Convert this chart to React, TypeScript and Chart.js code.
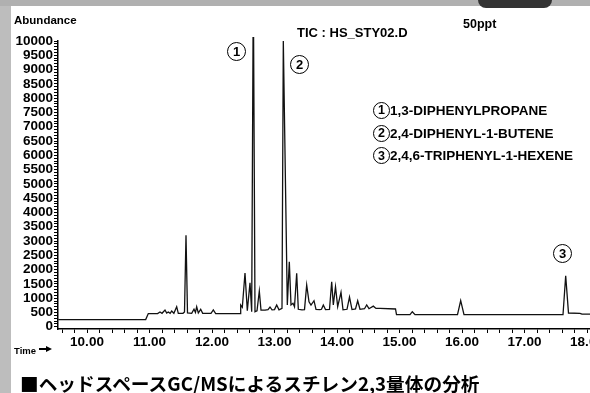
import React, { useEffect, useRef } from "react";
import { Chart, registerables } from "chart.js";

Chart.register(...registerables);

// Retention time (min) of each point of the total ion chromatogram
const retentionTimes = [
  9.54, 10.939, 10.981, 11.13, 11.168, 11.2, 11.248, 11.275, 11.301, 11.33, 11.355, 11.39, 11.435, 11.461,
  11.536, 11.56, 11.584, 11.608, 11.675, 11.712, 11.735, 11.755, 11.781, 11.819, 11.851, 11.984, 12.021,
  12.059, 12.448, 12.459, 12.485, 12.528, 12.565, 12.608, 12.635, 12.661, 12.688, 12.72, 12.757, 12.784,
  12.848, 12.896, 12.928, 12.96, 13.0, 13.035, 13.072, 13.12, 13.141, 13.205, 13.237, 13.264, 13.296,
  13.32, 13.355, 13.381, 13.44, 13.48, 13.515, 13.552, 13.584, 13.632, 13.664, 13.728, 13.752, 13.781,
  13.816, 13.88, 13.915, 13.941, 13.976, 14.011, 14.064, 14.096, 14.16, 14.2, 14.24, 14.296, 14.331,
  14.368, 14.44, 14.475, 14.512, 14.581, 14.624, 14.688, 14.936, 14.952, 15.168, 15.205, 15.248, 15.928,
  15.979, 16.032, 17.616, 17.659, 17.704, 17.888, 17.92, 18.6,
];

// Abundance at each retention time
const abundance = [
  250, 250, 460, 460, 515, 470, 585, 480, 515, 470, 550, 470, 700, 470,
  470, 520, 3200, 480, 470, 610, 500, 700, 480, 610, 470, 470, 585,
  460, 460, 760, 680, 1880, 560, 1540, 525, 12000, 525, 560, 1250, 585,
  580, 600, 690, 590, 600, 760, 590, 640, 10000, 760, 2275, 760, 820,
  700, 1870, 610, 590, 600, 1460, 875, 760, 910, 610, 600, 610, 760,
  600, 610, 1575, 760, 1400, 700, 1200, 590, 610, 1040, 600, 620, 910,
  610, 630, 760, 630, 720, 640, 640, 620, 420, 420, 525, 420, 420,
  910, 420, 420, 1785, 480, 470, 440, 440,
];

const xMin = 9.536;
const xMax = 18.048;
const xTickStep = 0.2;
const yMin = -80;
const yMax = 10000;
const yTickStep = 100;
const yLabelStep = 500;

const peakNumbers = ["1", "2", "3"];
const compounds = ["1,3-DIPHENYLPROPANE", "2,4-DIPHENYL-1-BUTENE", "2,4,6-TRIPHENYL-1-HEXENE"];
const yAxisTitle = "Abundance";
const fileTitle = "TIC : HS_STY02.D";
const concentration = "50ppt";
const xAxisTitle = "Time";
const caption = "\u25A0\u30D8\u30C3\u30C9\u30B9\u30DA\u30FC\u30B9GC/MS\u306B\u3088\u308B\u30B9\u30C1\u30EC\u30F32,3\u91CF\u4F53\u306E\u5206\u6790";

const SANS = "'Liberation Sans', Arial, Helvetica, sans-serif";
const CJK = "'Noto Sans CJK JP', 'Noto Sans CJK SC', sans-serif";

function Circled({ n, left, top, d, fs }: { n: string; left: number; top: number; d: number; fs: number }) {
  return (
    <div
      style={{
        position: "absolute",
        left,
        top,
        width: d,
        height: d,
        boxSizing: "border-box",
        border: "1.8px solid #000",
        borderRadius: "50%",
        display: "flex",
        alignItems: "center",
        justifyContent: "center",
        fontFamily: SANS,
        fontWeight: "bold",
        fontSize: fs,
        lineHeight: 1,
        color: "#000",
      }}
    >
      {n}
    </div>
  );
}

export default function App() {
  const canvasRef = useRef<HTMLCanvasElement | null>(null);

  useEffect(() => {
    const canvas = canvasRef.current;
    if (!canvas) return;
    const points = retentionTimes.map((t, i) => ({ x: t, y: abundance[i] }));
    const chart = new Chart(canvas, {
      type: "line",
      data: {
        datasets: [
          {
            data: points,
            borderColor: "#111",
            borderWidth: 1.3,
            pointRadius: 0,
            tension: 0,
            fill: false,
            clip: { left: 0, top: 4, right: 0, bottom: 0 },
          } as any,
        ],
      },
      options: {
        responsive: false,
        animation: false,
        events: [],
        layout: { padding: { top: 41, left: 0, right: 0, bottom: 0 } },
        plugins: { legend: { display: false }, tooltip: { enabled: false } },
        scales: {
          x: {
            type: "linear",
            min: xMin,
            max: xMax,
            afterFit: (s: any) => {
              s.height = 64;
              s.paddingLeft = 0;
              s.paddingRight = 0;
            },
            border: { color: "#000", width: 1.5 },
            grid: { drawOnChartArea: false, color: "#000", tickLength: 4 },
            ticks: {
              stepSize: xTickStep,
              autoSkip: false,
              maxRotation: 0,
              minRotation: 0,
              includeBounds: false,
              padding: 1,
              color: "#000",
              font: { family: SANS, size: 13.5, weight: "bold" },
              callback: (v: any) => {
                const n = Number(v);
                return Math.abs(n - Math.round(n)) < 1e-6 ? n.toFixed(2) : "";
              },
            },
          },
          y: {
            type: "linear",
            min: yMin,
            max: yMax,
            afterFit: (s: any) => {
              s.width = 58;
            },
            border: { color: "#000", width: 1.5 },
            grid: { drawOnChartArea: false, color: "#000", tickLength: 4 },
            ticks: {
              stepSize: yTickStep,
              autoSkip: false,
              includeBounds: false,
              padding: 1,
              color: "#000",
              font: { family: SANS, size: 13.5, weight: "bold" },
              callback: (v: any) => {
                const n = Math.round(Number(v));
                return n % yLabelStep === 0 ? String(n) : "";
              },
            },
          },
        },
      } as any,
    });
    return () => chart.destroy();
  }, []);

  const abs = (left: number, top: number, extra: React.CSSProperties = {}): React.CSSProperties => ({
    position: "absolute",
    left,
    top,
    lineHeight: 1,
    whiteSpace: "nowrap",
    color: "#000",
    ...extra,
  });

  const bold = (size: number): React.CSSProperties => ({ fontFamily: SANS, fontWeight: "bold", fontSize: size });

  return (
    <div
      style={{
        position: "fixed",
        left: 0,
        top: 0,
        width: 590,
        height: 393,
        background: "#fff",
        overflow: "hidden",
      }}
    >
      <canvas ref={canvasRef} width={590} height={393} style={{ position: "absolute", left: 0, top: 0, display: "block" }} />
      <div style={{ position: "absolute", left: 0, top: 0, width: 11, height: 393, background: "#bdbdbd" }} />
      <div style={{ position: "absolute", left: 0, top: 0, width: 590, height: 6, background: "#b0b0b0" }} />
      <div style={{ position: "absolute", left: 478, top: 0, width: 74, height: 8, background: "#333", borderRadius: "0 0 30px 30px" }} />

      <div style={abs(14, 15, bold(11.5))}>{yAxisTitle}</div>
      <div style={abs(297, 26, bold(13))}>{fileTitle}</div>
      <div style={abs(463, 18, bold(12.5))}>{concentration}</div>

      <Circled n={peakNumbers[0]} left={227} top={42} d={19} fs={13} />
      <Circled n={peakNumbers[1]} left={290} top={55} d={19} fs={13} />
      <Circled n={peakNumbers[2]} left={553} top={244} d={19} fs={13} />

      {compounds.map((name, i) => (
        <React.Fragment key={name}>
          <Circled n={peakNumbers[i]} left={373} top={102 + i * 22.7} d={17} fs={12.5} />
          <div style={abs(390, 104 + i * 22.7, bold(13.5))}>{name}</div>
        </React.Fragment>
      ))}

      <div style={abs(14, 346, bold(9.5))}>{xAxisTitle}</div>
      <div style={{ position: "absolute", left: 39, top: 348, width: 8, height: 2, background: "#000" }} />
      <div
        style={{
          position: "absolute",
          left: 46,
          top: 346,
          width: 0,
          height: 0,
          borderTop: "3px solid transparent",
          borderBottom: "3px solid transparent",
          borderLeft: "6px solid #000",
        }}
      />

      <div style={abs(20, 374, { fontFamily: CJK, fontWeight: "bold", fontSize: 18.7 })}>{caption}</div>
    </div>
  );
}
